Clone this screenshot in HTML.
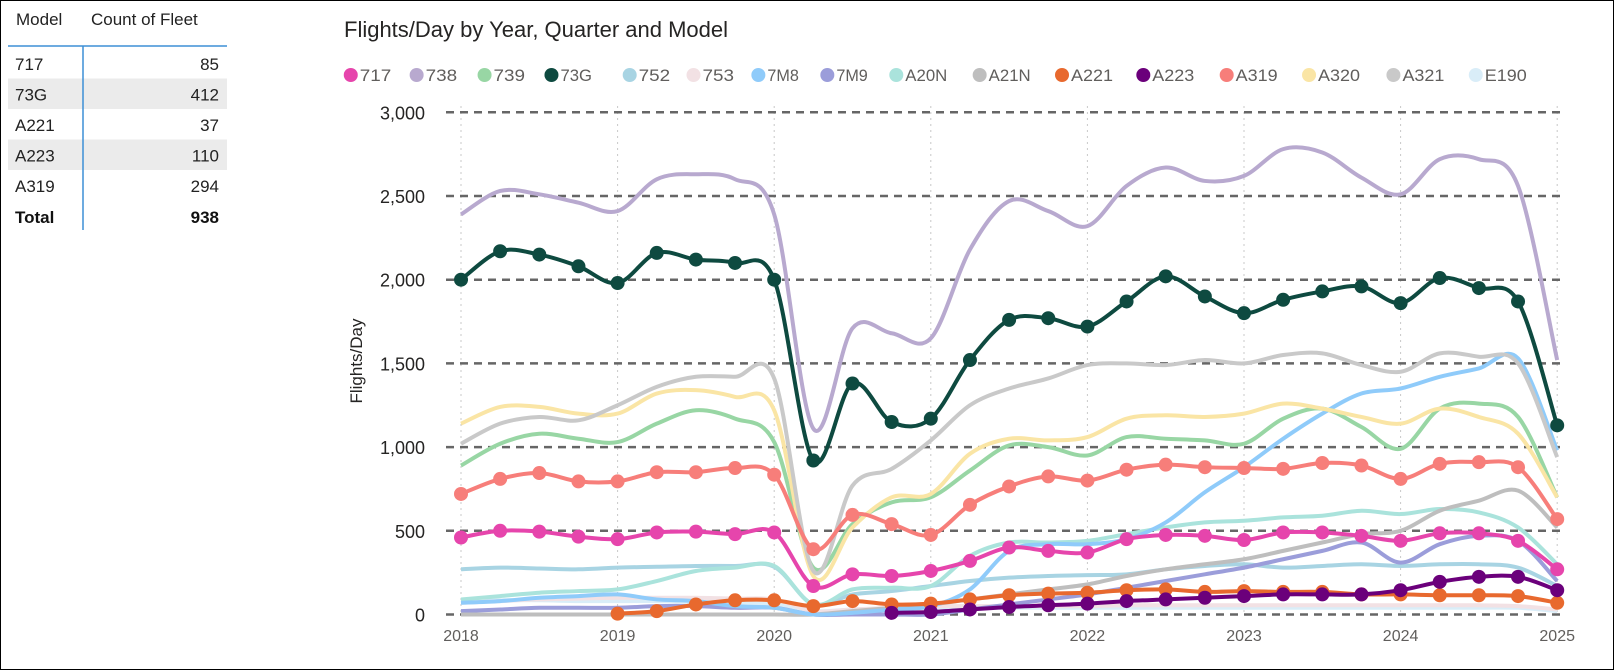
<!DOCTYPE html>
<html><head><meta charset="utf-8"><style>
body{margin:0;background:#fff;}
#c{position:relative;width:1614px;height:670px;overflow:hidden;background:#fff;box-sizing:border-box;border:1px solid #000;font-family:"Liberation Sans",sans-serif;}
</style></head><body><div id="c">
<svg id="s" width="1614" height="670" style="position:absolute;left:0;top:0"></svg>
</div>
<script>
const NS="http://www.w3.org/2000/svg",s=document.getElementById('s');
function el(n,a,t){const e=document.createElementNS(NS,n);for(const k in a)e.setAttribute(k,a[k]);if(t!==undefined)e.textContent=t;s.appendChild(e);return e;}
const F='"Liberation Sans",sans-serif';
el('text',{x:15,y:24,'font-size':17,fill:'#222','font-family':F},'Model');
el('text',{x:90,y:24,'font-size':17,fill:'#222','font-family':F},'Count of Fleet');
const rows=[['717','85'],['73G','412'],['A221','37'],['A223','110'],['A319','294']];
rows.forEach((r,i)=>{const y=47+i*30.5;if(i%2)el('rect',{x:7,y:y,width:219,height:30.5,fill:'#ebebeb'});
el('text',{x:14,y:y+22,'font-size':17,fill:'#222','font-family':F},r[0]);
el('text',{x:218,y:y+22,'font-size':17,fill:'#222','font-family':F,'text-anchor':'end'},r[1]);});
el('text',{x:14,y:222,'font-size':17,fill:'#111','font-weight':'bold','font-family':F},'Total');
el('text',{x:218,y:222,'font-size':17,fill:'#111','font-weight':'bold','font-family':F,'text-anchor':'end'},'938');
el('line',{x1:7,y1:45,x2:226,y2:45,stroke:'#3d8fd6','stroke-width':1.5});
el('line',{x1:82,y1:45,x2:82,y2:229,stroke:'#3d8fd6','stroke-width':1.5});
el('text',{x:343,y:36,'font-size':22,fill:'#252423','font-family':F},'Flights/Day by Year, Quarter and Model');
const CL=[['717','#E645AC'],['738','#B8A9CF'],['739','#98D6A4'],['73G','#0E4A40'],['752','#A8D4E3'],['753','#F2E1E4'],['7M8','#8FCBFA'],['7M9','#9B9DDA'],['A20N','#AAE3DC'],['A21N','#BEBEBE'],['A221','#E8692E'],['A223','#6B007B'],['A319','#F77E7A'],['A320','#FAE5A5'],['A321','#C9C9C9'],['E190','#D9EDF8']];
const C={};CL.forEach(p=>C[p[0]]=p[1]);
const lx=[333,397,463,528,604,666,729,796,863,944,1024,1103,1184,1264,1346,1426];
CL.forEach((p,i)=>{const x=lx[i]*1.0293;el('circle',{cx:x+7,cy:74,r:7,fill:p[1]});
el('text',{x:x+16,y:80,'font-size':17,fill:'#605E5C','font-family':F,textLength:(p[0].length*10.5),lengthAdjust:'spacingAndGlyphs'},p[0]);});
const X0=460,XW=156.6,Y0=613.5,YS=83.7/500;
const X=q=>X0+q*XW/4, Y=v=>Y0-v*YS;
for(let y=2018;y<=2025;y++){const x=X((y-2018)*4);el('line',{x1:x,y1:105,x2:x,y2:613,stroke:'#c8c8c8','stroke-dasharray':'2,4'});
el('text',{x:x,y:640,'font-size':16,fill:'#605E5C','text-anchor':'middle','font-family':F},y);}
for(let v=0;v<=3000;v+=500){el('line',{x1:445,y1:Y(v),x2:1563,y2:Y(v),stroke:'#666','stroke-width':2.5,'stroke-dasharray':'8,6'});
el('text',{x:424,y:Y(v)+7,'font-size':18,fill:'#252423','text-anchor':'end','font-family':F},v.toLocaleString('en-US'));}
el('text',{x:0,y:0,'font-size':17,fill:'#252423','text-anchor':'middle','font-family':F,transform:'translate(361,360) rotate(-90)'},'Flights/Day');
function path(pts){let d='M'+pts[0][0]+','+pts[0][1];for(let i=0;i<pts.length-1;i++){const p0=pts[i-1]||pts[i],p1=pts[i],p2=pts[i+1],p3=pts[i+2]||p2;
d+=`C${p1[0]+(p2[0]-p0[0])/6},${p1[1]+(p2[1]-p0[1])/6} ${p2[0]-(p3[0]-p1[0])/6},${p2[1]-(p3[1]-p1[1])/6} ${p2[0]},${p2[1]}`;}return d;}
function series(k,vals,start,mark){const pts=vals.map((v,i)=>[X(start+i),Y(v)]);
el('path',{d:path(pts),fill:'none',stroke:C[k],'stroke-width':4,'stroke-linejoin':'round'});
if(mark)pts.forEach(p=>el('circle',{cx:p[0],cy:p[1],r:7,fill:C[k]}));}
series('E190',[80,85,85,80,80,80,75,70,60,20,30,35,40,40,40,40,40,40,40,40,40,40,40,40,40,40,40,40,20],0);
series('753',[70,80,90,95,100,100,100,95,90,20,30,40,50,50,50,50,50,55,55,55,55,55,55,55,55,55,55,50,30],0);
series('752',[270,280,275,270,280,285,290,290,285,60,120,140,170,200,220,230,235,240,270,290,300,280,290,300,290,300,300,280,170],0);
series('A20N',[90,110,130,140,150,200,260,280,290,60,150,160,170,350,430,430,440,480,520,550,560,580,590,620,600,630,610,520,300],0);
series('7M9',[20,30,40,40,40,50,50,40,40,0,0,0,0,30,60,90,120,160,200,240,280,330,380,430,310,420,470,440,200],0);
series('A21N',[0,0,0,0,0,0,0,0,0,0,20,40,60,90,120,150,180,230,270,300,330,380,430,480,500,620,680,740,520],0);
series('7M8',[70,80,100,110,120,90,80,50,40,0,10,30,50,150,380,420,420,450,550,730,880,1050,1200,1320,1350,1420,1470,1530,980],0);
series('739',[890,1020,1080,1050,1030,1140,1220,1170,1030,280,540,670,700,860,1010,1000,950,1060,1050,1040,1020,1170,1230,1120,990,1230,1260,1180,700],0);
series('A320',[1140,1240,1240,1200,1200,1320,1340,1300,1220,230,520,700,720,960,1050,1040,1060,1170,1190,1180,1200,1260,1230,1180,1140,1230,1180,1080,700],0);
series('A321',[1020,1140,1180,1160,1250,1360,1420,1420,1410,260,770,870,1040,1250,1350,1410,1490,1500,1490,1520,1500,1550,1560,1490,1450,1560,1540,1500,940],0);
series('738',[2390,2530,2510,2460,2410,2600,2630,2600,2390,1110,1710,1680,1650,2180,2470,2410,2320,2560,2670,2590,2620,2780,2760,2610,2510,2720,2720,2560,1520],0);
series('A221',[5,20,60,85,85,50,80,60,65,90,115,125,130,145,150,135,140,135,135,120,120,115,115,110,70],4,true);
series('A223',[10,15,30,45,55,65,80,90,100,110,120,120,120,145,195,225,225,145],11,true);
series('717',[460,500,495,465,450,490,495,480,490,170,240,230,260,320,400,380,370,450,475,470,445,490,490,470,440,485,485,440,270],0,true);
series('A319',[720,810,845,795,795,850,850,875,835,390,595,540,475,655,765,825,800,865,895,880,875,870,905,890,810,900,910,880,570],0,true);
series('73G',[2000,2170,2150,2080,1980,2160,2120,2100,2000,920,1380,1150,1170,1520,1760,1770,1720,1870,2020,1900,1800,1880,1930,1960,1860,2010,1950,1870,1130],0,true);
</script></body></html>
